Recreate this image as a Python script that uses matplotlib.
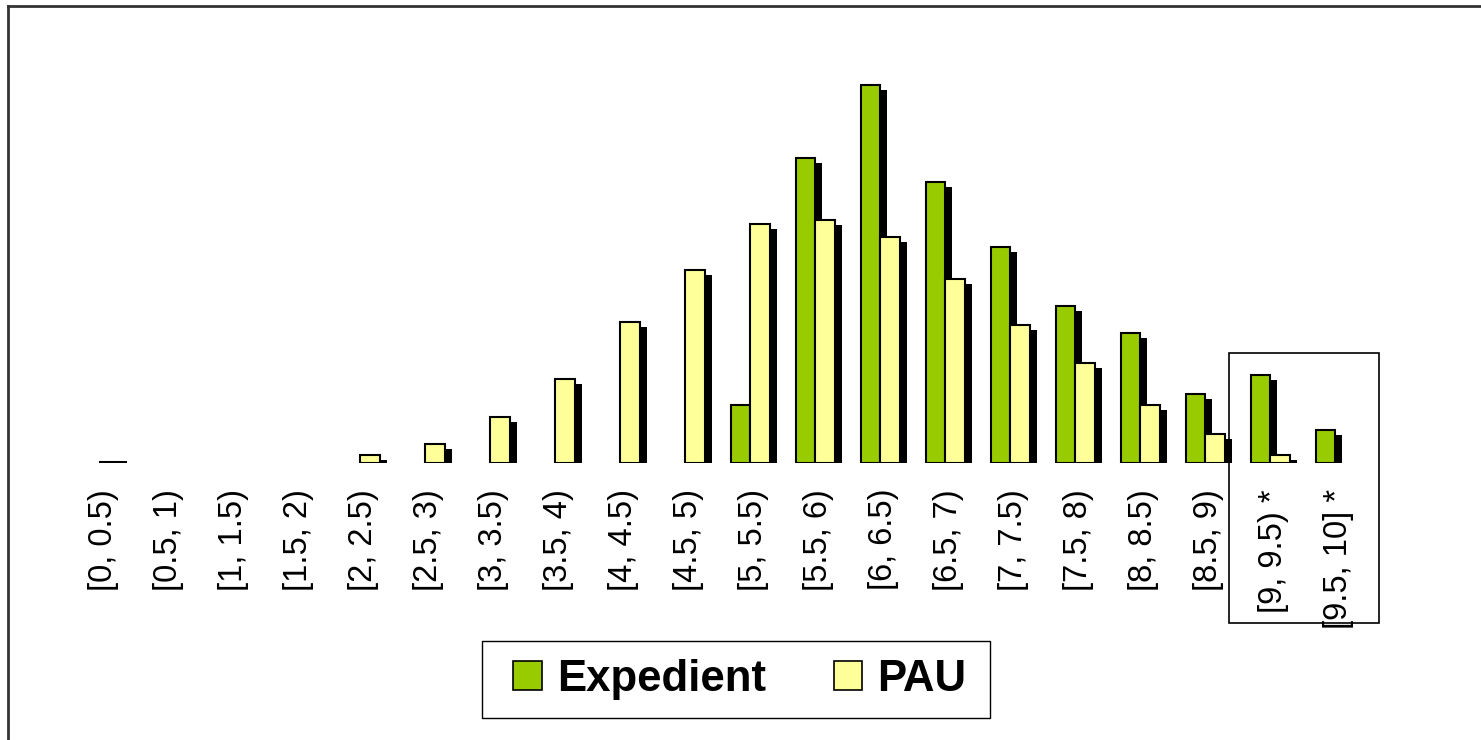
import matplotlib.pyplot as plt
from matplotlib.patches import Patch, Rectangle
from matplotlib.lines import Line2D

plt.rcParams['font.family'] = ['Liberation Sans', 'DejaVu Sans']

# bins and bar heights (arbitrary units)
bins = ['[0, 0.5)', '[0.5, 1)', '[1, 1.5)', '[1.5, 2)', '[2, 2.5)', '[2.5, 3)',
        '[3, 3.5)', '[3.5, 4)', '[4, 4.5)', '[4.5, 5)', '[5, 5.5)', '[5.5, 6)',
        '[6, 6.5)', '[6.5, 7)', '[7, 7.5)', '[7.5, 8)', '[8, 8.5)', '[8.5, 9)',
        '[9, 9.5) *', '[9.5, 10] *']
expedient = [0, 0, 0, 0, 0, 0, 0, 0, 0, 0, 58, 305, 378, 281, 216, 157, 130, 69, 88, 33]
pau = [1, 0, 0, 0, 8, 19, 46, 84, 141, 193, 239, 243, 226, 184, 138, 100, 58, 29, 8, 0]

green = '#99CC00'
yellow = '#FFFF99'

fig = plt.figure(figsize=(14.81, 7.40), dpi=100)
W, H = 1481, 740
ax = fig.add_axes([67.5 / W, (H - 463) / H, 1300 / W, 403 / H])
ax.set_xlim(-0.5, len(bins) - 0.5)
ax.set_ylim(0, 403)
ax.axis('off')

bw = 0.3
dx = 7 / 65.0
for i in range(len(bins)):
    for off, val, col in [(-bw / 2, expedient[i], green), (bw / 2, pau[i], yellow)]:
        if val <= 0:
            continue
        # drop shadow
        ax.bar(i + off + dx, max(val - 3, 4), width=bw, bottom=-2, color='black',
               edgecolor='none', zorder=1)
        ax.bar(i + off, val, width=bw, color=col, edgecolor='black',
               linewidth=1.5, zorder=2)

for i, lab in enumerate(bins):
    ax.text(i + 0.05, -26, lab, rotation=90, ha='center', va='top', fontsize=23.5,
            clip_on=False)

handles = [Patch(facecolor=green, edgecolor='black', linewidth=1.2, label='Expedient'),
           Patch(facecolor=yellow, edgecolor='black', linewidth=1.2, label='PAU')]
leg = fig.legend(handles=handles, loc='center', bbox_to_anchor=(740 / W, 1 - 679.5 / H),
                 ncol=2, frameon=False,
                 prop={'weight': 'bold', 'size': 31.5}, handlelength=0.65,
                 handleheight=0.65, handletextpad=0.35, columnspacing=1.55,
                 borderpad=0.3, borderaxespad=0)

# legend frame
fig.add_artist(Rectangle((482 / W, 1 - 718 / H), 508 / W, 77 / H,
                         transform=fig.transFigure, fill=False,
                         edgecolor='black', linewidth=1.0))

# box around the last two bins
fig.add_artist(Rectangle((1229 / W, 1 - 623 / H), 150 / W, 270 / H,
                         transform=fig.transFigure, fill=False,
                         edgecolor='black', linewidth=1.2))

# outer frame (top and left edges)
fig.add_artist(Line2D([8 / W, 1], [1 - 6 / H, 1 - 6 / H], transform=fig.transFigure,
                      color='#333333', linewidth=2))
fig.add_artist(Line2D([8 / W, 8 / W], [0, 1 - 6 / H], transform=fig.transFigure,
                      color='#333333', linewidth=2))

fig.savefig('out.png', dpi=100)
